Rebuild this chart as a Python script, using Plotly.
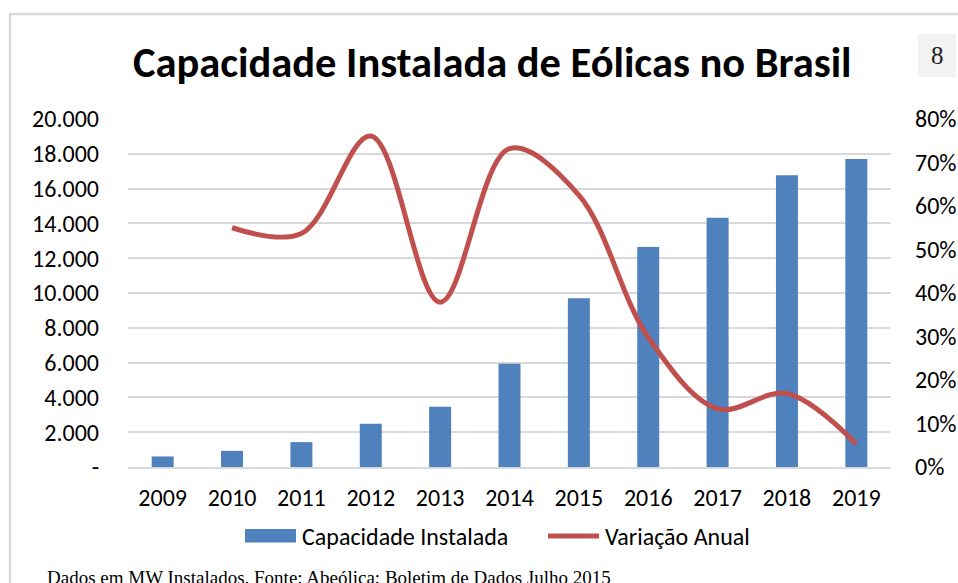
import plotly.graph_objects as go

# ---- data ----
anos = ["2009", "2010", "2011", "2012", "2013", "2014", "2015", "2016", "2017", "2018", "2019"]
capacidade_mw = [606, 927, 1430, 2480, 3460, 5930, 9700, 12640, 14330, 16770, 17700]
variacao_anual = [None, 0.55, 0.537, 0.761, 0.379, 0.732, 0.625, 0.298, 0.134, 0.169, 0.053]
y1_tickvals = [0, 2000, 4000, 6000, 8000, 10000, 12000, 14000, 16000, 18000, 20000]
y1_ticktext = ["-", "2.000", "4.000", "6.000", "8.000", "10.000", "12.000", "14.000", "16.000", "18.000", "20.000"]
y2_tickvals = [0, 0.1, 0.2, 0.3, 0.4, 0.5, 0.6, 0.7, 0.8]
y2_ticktext = ["0%", "10%", "20%", "30%", "40%", "50%", "60%", "70%", "80%"]
nome_barras = "Capacidade Instalada"
nome_linha = "Variação Anual"
titulo = "Capacidade Instalada de Eólicas no Brasil"
nota = "Dados em MW Instalados. Fonte: Abeólica; Boletim de Dados Julho 2015"
pagina = "8"

# ---- layout geometry (pixels) ----
W, H = 958, 583
L, R, T, B = 128, 891, 119, 467
FONT = "Carlito, Calibri, Lato, sans-serif"
BLUE = "#4F81BD"
RED = "#C0504D"
GRID = "#D9D9D9"


def px(x):
    return (x - L) / (R - L)


def py(y):
    return (B - y) / (B - T)


fig = go.Figure()
fig.add_trace(go.Bar(x=anos, y=capacidade_mw, name=nome_barras, marker=dict(color=BLUE, line=dict(width=0)),
                     yaxis="y"))
fig.add_trace(go.Scatter(x=anos, y=variacao_anual, name=nome_linha, mode="lines",
                         line=dict(color=RED, width=5, shape="spline", smoothing=1.0),
                         connectgaps=False, yaxis="y2"))

fig.update_layout(
    width=W, height=H,
    margin=dict(l=L, r=W - R, t=T, b=H - B, pad=0, autoexpand=False),
    paper_bgcolor="white", plot_bgcolor="white",
    showlegend=False,
    bargap=0.683,
    font=dict(family=FONT, size=24, color="#000000"),
    xaxis=dict(type="category", showgrid=False, showline=True, linecolor=GRID, linewidth=2, automargin=False,
               ticks="", tickfont=dict(size=24), ticklabelstandoff=8, zeroline=False),
    yaxis=dict(range=[0, 20000], tickvals=y1_tickvals, ticktext=y1_ticktext, showgrid=True, automargin=False,
               gridcolor=GRID, gridwidth=1.5, zeroline=False, showline=False, ticks="",
               tickfont=dict(size=24), ticklabelstandoff=28),
    yaxis2=dict(range=[0, 0.8], tickvals=y2_tickvals, ticktext=y2_ticktext, overlaying="y", side="right",
                showgrid=False, zeroline=False, showline=False, ticks="", automargin=False,
                tickfont=dict(size=24), ticklabelstandoff=23),
)

shapes = [
    # chart frame
    dict(type="line", xref="paper", yref="paper", x0=px(10), x1=px(10), y0=py(600), y1=py(14),
         line=dict(color=GRID, width=2.5)),
    dict(type="line", xref="paper", yref="paper", x0=px(9), x1=px(960), y0=py(14), y1=py(14),
         line=dict(color=GRID, width=2.5)),
    # page-number box
    dict(type="rect", xref="paper", yref="paper", x0=px(918), x1=px(956), y0=py(77), y1=py(34),
         fillcolor="#F2F2F2", line=dict(width=0), layer="below"),
    # legend symbols
    dict(type="rect", xref="paper", yref="paper", x0=px(245), x1=px(296), y0=py(542.5), y1=py(529),
         fillcolor=BLUE, line=dict(width=0)),
    dict(type="line", xref="paper", yref="paper", x0=px(548), x1=px(599), y0=py(536), y1=py(536),
         line=dict(color=RED, width=5)),
]

annotations = [
    dict(text="<b>" + titulo + "</b>", xref="paper", yref="paper", x=px(492), y=py(62),
         xanchor="center", yanchor="middle", showarrow=False, font=dict(family=FONT, size=42.5, color="#000")),
    dict(text=pagina, xref="paper", yref="paper", x=px(937), y=py(55), xanchor="center", yanchor="middle",
         showarrow=False, font=dict(family="Liberation Serif, serif", size=25, color="#222")),
    dict(text=nome_barras, xref="paper", yref="paper", x=px(300), y=py(536), xanchor="left", yanchor="middle",
         showarrow=False, font=dict(family=FONT, size=24, color="#000")),
    dict(text=nome_linha, xref="paper", yref="paper", x=px(603), y=py(536), xanchor="left", yanchor="middle",
         showarrow=False, font=dict(family=FONT, size=24, color="#000")),
    dict(text=nota, xref="paper", yref="paper", x=px(45), y=py(565), xanchor="left", yanchor="top",
         showarrow=False, font=dict(family="Liberation Serif, serif", size=19, color="#000")),
]

fig.update_layout(shapes=shapes, annotations=annotations)
fig.write_html("out.html", config={"displayModeBar": False},
               post_script="document.body.style.margin='0px';")
